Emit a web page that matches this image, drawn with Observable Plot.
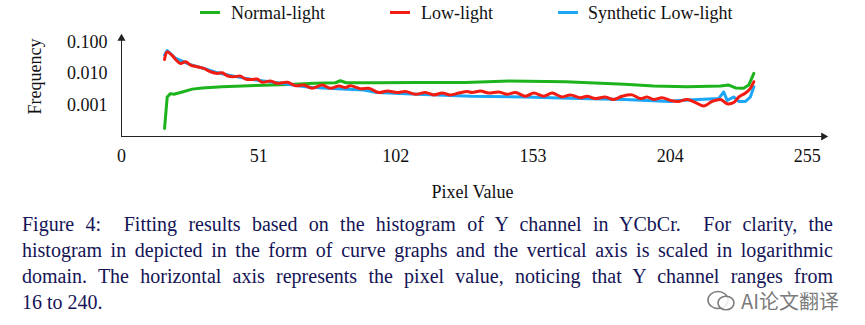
<!DOCTYPE html>
<html>
<head>
<meta charset="utf-8">
<script src="https://cdn.jsdelivr.net/npm/d3@7"></script>
<script src="https://cdn.jsdelivr.net/npm/@observablehq/plot@0.6"></script>
<style>
  html, body { margin: 0; padding: 0; background: #fff; }
  #wrap { position: relative; width: 865px; height: 325px; overflow: hidden; font-family: "Liberation Serif", "Times New Roman", serif; }
  .lg-line { position: absolute; top: 11px; width: 20px; height: 3px; }
  .lg-text { position: absolute; top: 3px; font-size: 18px; line-height: 20px; color: #111; white-space: nowrap; }
  #chart { position: absolute; left: 0; top: 26px; }
  #caption { position: absolute; left: 22px; top: 211px; width: 811px; font-size: 20px; line-height: 26px; color: #141456; }
  #caption .j { text-align: justify; text-align-last: justify; white-space: nowrap; }
  #wm { position: absolute; left: 741px; top: 289px; font-family: "Noto Sans CJK SC", sans-serif; font-size: 20px; line-height: 24px; color: rgba(105,105,105,0.9);
        text-shadow: 0 0 2px #fff, 0 0 2px #fff, 0 0 3px #fff, 0 0 3px #fff; white-space: nowrap; }
  #wmicon { position: absolute; left: 706px; top: 289px; width: 32px; height: 24px; }
</style>
</head>
<body>
<div id="wrap">
  <div id="legend"></div>
  <div id="chart"></div>
  <div id="caption">
    <div class="j">Figure 4: &nbsp;Fitting results based on the histogram of Y channel in YCbCr. &nbsp;For clarity, the</div>
    <div class="j">histogram in depicted in the form of curve graphs and the vertical axis is scaled in logarithmic</div>
    <div class="j">domain. The horizontal axis represents the pixel value, noticing that Y channel ranges from</div>
    <div>16 to 240.</div>
  </div>
  <svg id="wmicon" viewBox="0 0 32 24">
    <ellipse cx="12" cy="11" rx="10" ry="8.5" fill="rgba(255,255,255,0.85)" stroke="rgba(110,110,110,0.9)" stroke-width="1.6"/>
    <ellipse cx="20" cy="14" rx="8" ry="6.8" fill="rgba(255,255,255,0.85)" stroke="rgba(110,110,110,0.9)" stroke-width="1.6"/>
  </svg>
  <div id="wm">AI论文翻译</div>
</div>
<script>
// ---------- data ----------
const seriesNames = ["Normal-light", "Low-light", "Synthetic Low-light"];

const pixelsNormal = [16, 17, 18.2, 19.5, 22.6, 26.3, 30, 37.4, 49.8, 62, 72, 79.5, 81.4, 83.5, 95, 110, 128, 144, 165, 187, 197.9, 210.3, 222.7, 225.8, 228.3, 231.3, 233.2, 235.1];
const freqNormal   = [0.00018, 0.0018, 0.0023, 0.0022, 0.0026, 0.0032, 0.0035, 0.0038, 0.0042, 0.0045, 0.0049, 0.0051, 0.0059, 0.0051, 0.0051, 0.0052, 0.0052, 0.0058, 0.0055, 0.0046, 0.0040, 0.0038, 0.0040, 0.0043, 0.0035, 0.0034, 0.0043, 0.0101];

const pixelsLow = [16, 17, 18.6, 20.3, 21.9, 23.8, 25.7, 28.1, 30.6, 33.1, 35.6, 37.4, 39.3, 41.8, 44.2, 46.1, 48.6, 50.4, 52.3, 55.4, 57.9, 61.6, 64.7, 67.8, 70.9, 74.6, 77.7, 80.8, 83.3, 85.1, 88.8, 91.9, 95.7, 98.8, 102.5, 105.6, 109.3, 113, 116.1, 119.2, 122.3, 125.4, 128.5, 130.4, 133.5, 136.5, 140.3, 143.4, 146.5, 150.2, 153.3, 157, 160.1, 163.8, 166.9, 170.6, 173.1, 176.2, 179.9, 183, 186.1, 189.8, 192.9, 195.4, 197.9, 201, 204.1, 207.2, 210.3, 213.4, 216.5, 219.6, 222.7, 225.2, 227.6, 229.5, 232, 233.8, 235.1];
const freqLow   = [0.028, 0.049, 0.039, 0.027, 0.021, 0.0237, 0.0186, 0.0165, 0.0146, 0.0114, 0.0101, 0.0106, 0.0085, 0.0079, 0.0083, 0.0067, 0.0065, 0.0067, 0.0053, 0.0058, 0.0049, 0.0053, 0.0041, 0.0043, 0.0034, 0.0043, 0.0034, 0.0040, 0.0036, 0.0041, 0.0033, 0.0034, 0.0025, 0.0028, 0.0025, 0.0027, 0.0022, 0.0025, 0.0021, 0.0024, 0.0021, 0.0024, 0.0027, 0.0025, 0.0028, 0.0024, 0.0026, 0.0022, 0.0025, 0.0019, 0.0024, 0.0019, 0.0024, 0.0018, 0.0021, 0.0017, 0.0019, 0.0016, 0.0018, 0.0015, 0.0019, 0.0021, 0.0016, 0.0018, 0.0015, 0.0017, 0.0014, 0.0013, 0.0015, 0.0012, 0.00093, 0.0013, 0.0015, 0.0011, 0.0012, 0.0018, 0.0024, 0.0034, 0.0055];

const pixelsSynth = [16, 17, 18, 20, 23, 25, 30, 35, 40, 45, 50, 55, 60, 65, 70, 80, 90, 95, 110, 130, 150, 170, 187, 204, 207, 222, 223.9, 225.2, 227.6, 229.5, 232, 233.8, 235.1];
const freqSynth   = [0.039, 0.054, 0.045, 0.031, 0.024, 0.020, 0.015, 0.011, 0.0088, 0.0073, 0.0062, 0.0055, 0.0048, 0.0042, 0.0037, 0.0033, 0.0030, 0.0025, 0.0022, 0.0019, 0.0018, 0.0016, 0.0015, 0.0013, 0.0014, 0.0016, 0.0026, 0.0014, 0.0018, 0.0013, 0.0013, 0.0018, 0.0038];

const xTicks = [0, 51, 102, 153, 204, 255];
const yTicks = [0.001, 0.01, 0.1];
const xDomain = [0, 261];
const yDomain = [0.0001, 0.13];
const xLabel = "Pixel Value";
const yLabel = "Frequency";

// ---------- styles ----------
const colors = ["#1db31d", "#f21d12", "#1ba6f7"];
const legendLeft = [200, 390, 558];
const legendTextLeft = [231, 421, 588];

// ---------- legend ----------
const legend = document.getElementById("legend");
seriesNames.forEach((name, i) => {
  const ln = document.createElement("div");
  ln.className = "lg-line";
  ln.style.left = legendLeft[i] + "px";
  ln.style.background = colors[i];
  legend.appendChild(ln);
  const tx = document.createElement("div");
  tx.className = "lg-text";
  tx.style.left = legendTextLeft[i] + "px";
  tx.textContent = name;
  legend.appendChild(tx);
});

const rows = (xs, ys) => xs.map((x, i) => ({pixel: x, freq: ys[i]}));
const normal = rows(pixelsNormal, freqNormal);
const low = rows(pixelsLow, freqLow);
const synth = rows(pixelsSynth, freqSynth);

const axisColor = "#222";
const chart = Plot.plot({
  width: 865,
  height: 174,
  marginTop: 12,
  marginBottom: 64,
  marginLeft: 121,
  marginRight: 42,
  style: {fontFamily: "'Liberation Serif', 'Times New Roman', serif", fontSize: "18px", color: "#111", background: "transparent", overflow: "visible"},
  x: {domain: xDomain, ticks: xTicks, tickSize: 0, tickPadding: 13, label: null},
  y: {type: "log", domain: yDomain, ticks: yTicks, tickFormat: d3.format(".3f"), tickSize: 0, tickPadding: 14, label: null},
  marks: [
    Plot.ruleY([yDomain[0]], {stroke: axisColor, strokeWidth: 1}),
    Plot.ruleX([xDomain[0]], {stroke: axisColor, strokeWidth: 1}),
    Plot.dot([{x: xDomain[1], y: yDomain[0]}], {x: "x", y: "y", symbol: "triangle", rotate: 90, r: 3, fill: axisColor, stroke: null}),
    Plot.dot([{x: xDomain[0], y: yDomain[1]}], {x: "x", y: "y", symbol: "triangle", r: 3, fill: axisColor, stroke: null}),
    Plot.line(normal, {x: "pixel", y: "freq", stroke: colors[0], strokeWidth: 3, strokeLinejoin: "round"}),
    Plot.line(synth, {x: "pixel", y: "freq", stroke: colors[2], strokeWidth: 3, strokeLinejoin: "round"}),
    Plot.line(low, {x: "pixel", y: "freq", stroke: colors[1], strokeWidth: 3, strokeLinejoin: "round", curve: "catmull-rom"}),
    Plot.text([yLabel], {text: d => d, frameAnchor: "left", textAnchor: "middle", lineAnchor: "middle", rotate: -90, dx: -86, dy: -11, fontSize: 18, fill: "#111"}),
    Plot.text([xLabel], {text: d => d, frameAnchor: "bottom", textAnchor: "middle", lineAnchor: "middle", dy: 56, fontSize: 18, fill: "#111"})
  ]
});
document.getElementById("chart").appendChild(chart);
</script>
</body>
</html>
